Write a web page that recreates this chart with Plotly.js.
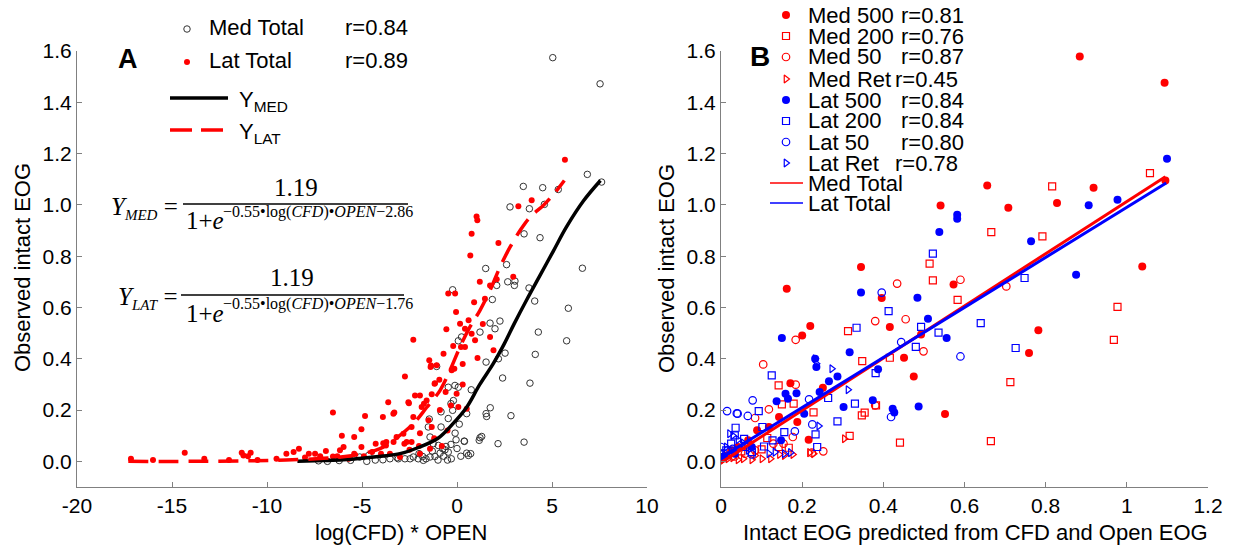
<!DOCTYPE html>
<html><head><meta charset="utf-8">
<script src="https://cdn.plot.ly/plotly-3.0.1.min.js"></script>
<style>body{margin:0;background:#fff}#c{width:1239px;height:545px}</style>
</head><body><div id="c"></div><script>
// ---------------- DATA ----------------
// Panel A
const medTotalX = [5.04,7.53,6.86,7.61,3.49,4.51,5.33,2.79,3.81,4.6,3.53,4.37,6.6,1.51,2.61,2.67,2.09,3.05,3.02,3.79,1.86,4.09,5.86,-0.23,1.74,2.0,2.26,1.21,4.28,0.24,0.07,5.77,2.53,2.18,1.53,4.12,-1.07,2.4,3.84,0.75,-0.11,-0.46,0.07,-0.19,-0.32,1.75,1.53,1.56,2.84,0.51,0.12,-0.46,-0.84,-1.46,-0.84,1.21,1.3,2.16,3.53,0.39,-0.05,-0.32,-0.58,-0.75,-0.98,-1.25,-1.42,0.51,0.72,0.6,-0.46,-0.63,-0.89,-1.16,-1.42,-1.63,-1.81,-2.04,-2.3,-2.47,-2.74,-3.09,-1.77,-0.23,-1.51,1.17,0.38,-6.82,-7.29,-4.75,-3.9,-3.53,-3.15,-4.65,-5.12,-4.3,-5.6,-6.2,-2.0,-1.3,-0.7,-0.3,0.0,-0.1,0.2,-1.0,-0.5];
const medTotalY = [1.574,1.472,1.119,1.089,1.072,1.067,1.06,0.992,0.985,1.002,0.887,0.872,0.753,0.752,0.767,0.7,0.686,0.703,0.686,0.676,0.631,0.625,0.597,0.669,0.539,0.517,0.547,0.504,0.504,0.485,0.47,0.47,0.422,0.4,0.387,0.417,0.37,0.325,0.305,0.279,0.296,0.289,0.289,0.237,0.225,0.209,0.186,0.175,0.178,0.186,0.145,0.167,0.193,0.165,0.134,0.092,0.097,0.069,0.075,0.078,0.084,0.066,0.058,0.049,0.062,0.069,0.095,0.032,0.03,0.023,0.036,0.045,0.032,0.019,0.017,0.01,0.019,0.01,0.017,0.01,0.01,0.01,0.004,0.199,0.134,0.082,0.079,0.0,0.002,0.0,0.006,0.01,0.014,0.023,0.017,0.005,0.004,0.003,0.03,0.04,0.02,0.01,0.05,0.11,0.02,0.005,0.005];
const latTotalX = [-17.16,-14.33,-13.3,-11.33,-10.86,-11.24,-11.0,-8.98,-8.6,-8.32,-7.47,-7.2,-6.53,-6.16,-5.97,-5.41,-5.03,-4.47,-4.28,-3.72,-3.34,-2.77,-6.53,-6.06,-5.41,-4.84,-5.03,-3.9,-3.62,-3.3,-2.74,-2.3,-2.53,-2.21,-1.74,-1.46,-1.37,-1.18,-0.71,-0.56,-0.46,-0.05,-0.14,0.42,0.61,0.7,1.08,1.36,1.74,1.92,2.96,5.68,3.93,3.23,1.03,1.07,0.77,2.18,2.09,1.47,-0.1,0.77,0.42,0.95,-1.39,-1.07,-0.28,-1.16,-0.93,-1.95,-2.56,-1.6,-1.33,-1.86,0.51,0.07,-3.35,-2.3,-1.33,-2.39,-2.82,-1.95,-3.18,-2.65,-2.39,-1.42,-3.88,-3.74,-3.0,-3.53,-1.95,-0.32,-0.02,0.21,1.74,0.16,-10.5,-9.5,-8.0,-7.8,-6.9,-6.3,-5.7,-4.9,-4.0,-2.5,-2.0,-1.2,-0.8,-0.5,-1.5,-0.9,-0.6,0.3,0.3,-0.2,0.9,1.2,-16.0,-12.0];
const latTotalY = [0.01,0.034,0.01,0.034,0.034,0.023,0.02,0.03,0.036,0.049,0.03,0.02,0.019,0.043,0.056,0.03,0.056,0.036,0.069,0.075,0.075,0.069,0.19,0.10,0.095,0.177,0.125,0.173,0.23,0.19,0.331,0.474,0.227,0.257,0.225,0.394,0.374,0.303,0.42,0.515,0.654,0.582,0.361,0.517,0.55,0.803,0.403,0.536,0.686,0.433,0.72,1.176,1.018,0.995,0.955,0.94,0.887,0.851,0.71,0.634,0.654,0.498,0.446,0.472,0.368,0.375,0.355,0.305,0.318,0.257,0.23,0.237,0.262,0.212,0.205,0.212,0.186,0.173,0.134,0.134,0.108,0.11,0.095,0.075,0.075,0.049,0.071,0.062,0.017,0.03,0.03,0.218,0.264,0.446,0.485,0.537,0.005,0.01,0.015,0.03,0.04,0.02,0.01,0.02,0.03,0.045,0.06,0.09,0.06,0.12,0.16,0.2,0.27,0.3,0.38,0.45,0.62,0.7,0.005,0.005];
const yMedX = [-8.4,-7,-6,-5,-4,-3,-2,-1,-0.2,0.5,1.2,1.9,2.5,3.0,3.67,4.37,5.07,5.77,6.65,7.55];
const yMedY = [0.0,0.003,0.006,0.012,0.02,0.03,0.055,0.09,0.148,0.21,0.30,0.38,0.46,0.535,0.63,0.725,0.82,0.915,1.015,1.095];
const yLatX = [-17.3,-14,-11,-9,-7,-6,-5,-4.05,-3.35,-2.3,-1.6,-0.89,-0.37,0.16,0.68,1.21,1.74,2.26,2.79,3.32,3.84,4.54,5.07,5.65];
const yLatY = [0.0,0.0,0.002,0.005,0.012,0.018,0.03,0.05,0.082,0.147,0.21,0.277,0.355,0.446,0.524,0.589,0.667,0.757,0.835,0.90,0.952,0.998,1.04,1.095];
const legendA = ["Med Total","Lat Total"];
const rA = ["r=0.84","r=0.89"];

// Panel B
const med500X = [0.884,1.093,0.541,0.656,0.708,0.828,0.918,1.095,0.345,1.038,0.162,0.573,0.396,0.22,0.2,0.416,0.782,0.493,0.451,0.475,0.759,0.552,0.171,0.251,0.188,0.118,0.143,0.216,0.089,0.067,0.042,0.025,0.013];
const med500Y = [1.579,1.476,0.998,1.076,0.989,1.007,1.067,1.095,0.758,0.76,0.673,0.69,0.637,0.528,0.491,0.524,0.511,0.495,0.404,0.331,0.422,0.185,0.305,0.287,0.153,0.134,0.173,0.084,0.121,0.082,0.056,0.043,0.023];
const med200X = [0.816,1.057,0.666,0.792,0.514,0.522,0.583,0.313,0.348,0.416,0.977,0.968,0.713,0.665,0.441,0.347,0.354,0.382,0.228,0.179,0.15,0.142,0.114,0.142,0.167,0.1,0.067,0.05,0.317];
const med200Y = [1.072,1.124,0.894,0.877,0.771,0.706,0.63,0.508,0.391,0.404,0.602,0.474,0.309,0.079,0.073,0.179,0.19,0.218,0.191,0.225,0.222,0.296,0.091,0.056,0.053,0.047,0.062,0.039,0.099];
const med50X = [0.434,0.59,0.703,0.38,0.455,0.499,0.104,0.184,0.184,0.118,0.084,0.177,0.252,0.224,0.154,0.129,0.084,0.059,0.034,0.38];
const med50Y = [0.693,0.708,0.682,0.547,0.554,0.429,0.378,0.474,0.299,0.203,0.169,0.095,0.039,0.034,0.069,0.069,0.043,0.03,0.019,0.218];
const medRetX = [0.304,0.218,0.228,0.122,0.101,0.076,0.055,0.042,0.029,0.017,0.004,0.084,0.144,0.156,0.177];
const medRetY = [0.088,0.034,0.03,0.01,0.01,0.006,0.01,0.006,0.014,0.01,0.004,0.023,0.027,0.023,0.027];
const lat500X = [1.099,0.906,0.977,0.582,0.582,0.538,0.764,0.345,0.51,0.556,0.15,0.317,0.484,0.875,0.387,0.235,0.232,0.287,0.266,0.243,0.186,0.159,0.165,0.137,0.302,0.205,0.374,0.423,0.427,0.487,0.148,0.076,0.034,0.008];
const lat500Y = [1.18,0.999,1.02,0.962,0.946,0.894,0.858,0.658,0.556,0.481,0.481,0.425,0.638,0.728,0.359,0.368,0.4,0.331,0.312,0.27,0.266,0.264,0.244,0.234,0.212,0.186,0.238,0.205,0.19,0.214,0.082,0.056,0.03,0.017];
const lat200X = [0.522,0.413,0.334,0.493,0.536,0.64,0.748,0.48,0.726,0.381,0.264,0.33,0.287,0.233,0.237,0.125,0.093,0.036,0.102,0.156,0.057,0.034,0.025,0.106,0.059,0.127,0.013,0.076];
const lat200Y = [0.81,0.586,0.521,0.524,0.502,0.539,0.715,0.446,0.442,0.344,0.247,0.225,0.156,0.105,0.056,0.335,0.196,0.131,0.134,0.114,0.088,0.101,0.069,0.058,0.056,0.082,0.043,0.036];
const lat50X = [0.396,0.444,0.59,0.419,0.078,0.015,0.041,0.066,0.182,0.217,0.225,0.0,0.007,0.017,0.029,0.076,0.004,0.039];
const lat50Y = [0.658,0.465,0.409,0.173,0.238,0.196,0.186,0.177,0.117,0.242,0.144,0.056,0.03,0.043,0.049,0.027,0.017,0.187];
const latRetX = [0.232,0.235,0.273,0.313,0.241,0.171,0.156,0.133,0.118,0.021,0.029,0.042,0.055,0.067,0.013,0.0];
const latRetY = [0.4,0.381,0.361,0.279,0.138,0.034,0.03,0.036,0.03,0.108,0.101,0.084,0.071,0.043,0.056,0.036];
const medTotX = [0, 1.095];
const medTotY = [-0.005, 1.11];
const latTotX = [0, 1.097];
const latTotY = [0.015, 1.085];
const legendB = ["Med 500","Med 200","Med 50","Med Ret","Lat 500","Lat 200","Lat 50","Lat Ret","Med Total","Lat Total"];
const rB = ["r=0.81","r=0.76","r=0.87","r=0.45","r=0.84","r=0.84","r=0.80","r=0.78","",""];

// ---------------- STYLE / LAYOUT ----------------
const W=1239,H=545;
const SANS='"Liberation Sans", Arial, sans-serif';
const SERIF='"Liberation Serif", "Times New Roman", serif';
const PX=x=>x/W, PY=y=>1-y/H;
const RED='#ff0000', BLUE='#0000ff';
const AX='#808080';

const stA = [
  {symbol:'circle-open', size:6.5, color:'#333333', line:{width:1}},
  {symbol:'circle', size:6, color:RED}
];
const stB = [
  {symbol:'circle', size:8, color:RED},
  {symbol:'square-open', size:7, color:RED, line:{width:1.2}},
  {symbol:'circle-open', size:7.5, color:RED, line:{width:1.2}},
  {symbol:'triangle-right-open', size:7, color:RED, line:{width:1.2}},
  {symbol:'circle', size:8, color:BLUE},
  {symbol:'square-open', size:7, color:BLUE, line:{width:1.2}},
  {symbol:'circle-open', size:7.5, color:BLUE, line:{width:1.2}},
  {symbol:'triangle-right-open', size:7, color:BLUE, line:{width:1.2}}
];
const traces=[];
[[medTotalX,medTotalY],[latTotalX,latTotalY]].forEach((d,i)=>traces.push({
  x:d[0],y:d[1],type:'scatter',mode:'markers',marker:stA[i],xaxis:'x',yaxis:'y',showlegend:false,hoverinfo:'skip'}));
traces.push({x:yMedX,y:yMedY,type:'scatter',mode:'lines',line:{color:'#000',width:3.5,shape:'spline'},xaxis:'x',yaxis:'y',showlegend:false});
traces.push({x:yLatX,y:yLatY,type:'scatter',mode:'lines',line:{color:RED,width:3.5,dash:'20px,10px',shape:'spline'},xaxis:'x',yaxis:'y',showlegend:false});
const seriesB=[[med500X,med500Y],[med200X,med200Y],[med50X,med50Y],[medRetX,medRetY],[lat500X,lat500Y],[lat200X,lat200Y],[lat50X,lat50Y],[latRetX,latRetY]];
seriesB.forEach((d,i)=>traces.push({x:d[0],y:d[1],type:'scatter',mode:'markers',marker:stB[i],xaxis:'x2',yaxis:'y2',showlegend:false,hoverinfo:'skip'}));
traces.push({x:medTotX,y:medTotY,type:'scatter',mode:'lines',line:{color:RED,width:3},xaxis:'x2',yaxis:'y2',showlegend:false});
traces.push({x:latTotX,y:latTotY,type:'scatter',mode:'lines',line:{color:BLUE,width:3},xaxis:'x2',yaxis:'y2',showlegend:false});

// legend keys (overlay pixel axis)
const keyA=[[187,29],[187,62]];
keyA.forEach((p,i)=>traces.push({x:[p[0]],y:[p[1]],type:'scatter',mode:'markers',marker:stA[i],xaxis:'x3',yaxis:'y3',showlegend:false,hoverinfo:'skip'}));
traces.push({x:[170,228],y:[98,98],type:'scatter',mode:'lines',line:{color:'#000',width:3.5},xaxis:'x3',yaxis:'y3',showlegend:false});
traces.push({x:[170,228],y:[130,130],type:'scatter',mode:'lines',line:{color:RED,width:3.5,dash:'22px,9px'},xaxis:'x3',yaxis:'y3',showlegend:false});
const rowB=[15,36,57,79,100,121,142,163,183,203];
stB.forEach((s,i)=>traces.push({x:[786],y:[rowB[i]],type:'scatter',mode:'markers',marker:s,xaxis:'x3',yaxis:'y3',showlegend:false,hoverinfo:'skip'}));
traces.push({x:[770,803],y:[rowB[8],rowB[8]],type:'scatter',mode:'lines',line:{color:RED,width:1.3},xaxis:'x3',yaxis:'y3',showlegend:false});
traces.push({x:[770,803],y:[rowB[9],rowB[9]],type:'scatter',mode:'lines',line:{color:BLUE,width:1.3},xaxis:'x3',yaxis:'y3',showlegend:false});

const ann=[];
function T(text,x,y,o){ann.push(Object.assign({text:text,x:PX(x),y:PY(y),xref:'paper',yref:'paper',showarrow:false,xanchor:'left',yanchor:'middle',font:{family:SANS,size:22,color:'#000'}},o||{}));}
T('<b>A</b>',128,59,{xanchor:'center',font:{family:SANS,size:27,color:'#000'}});
T('<b>B</b>',760,57,{xanchor:'center',font:{family:SANS,size:28,color:'#000'}});
legendA.forEach((t,i)=>{T(t,207,keyA[i][1]-2);T(rA[i],343,keyA[i][1]-2);});
T('Y<sub>MED</sub>',237,101);
T('Y<sub>LAT</sub>',237,133);
legendB.forEach((t,i)=>{T(t,806,rowB[i]); if(rB[i]) T(rB[i],(i===3||i===7)?893:899,rowB[i]);});
// equations
const EQ={family:SERIF,size:25,color:'#000'};
const EX={family:SERIF,size:16,color:'#000'};
const SUB='<span style="font-size:15px">';
T('<i>Y<sub>'+SUB+'MED</span></sub></i> =',180,208,{xanchor:'right',font:EQ});
T('1.19',296,187,{xanchor:'center',font:EQ});
T('1+<i>e</i>',184,221,{font:EQ});
T('−0.55•log(<i>CFD</i>)•<i>OPEN</i>−2.86',221,212,{font:EX});
T('<i>Y<sub>'+SUB+'LAT</span></sub></i> =',180,298,{xanchor:'right',font:EQ});
T('1.19',292,277,{xanchor:'center',font:EQ});
T('1+<i>e</i>',184,313,{font:EQ});
T('−0.55•log(<i>CFD</i>)•<i>OPEN</i>−1.76',221,304,{font:EX});
// axis titles
T('log(CFD) * OPEN',401,532,{xanchor:'center'});
T('Intact EOG predicted from CFD and Open EOG',975,532,{xanchor:'center'});
T('Observed intact EOG',22,268,{xanchor:'center',textangle:-90});
T('Observed intact EOG',666,268,{xanchor:'center',textangle:-90});

const shapes=[
 {type:'line',xref:'paper',yref:'paper',x0:PX(183),x1:PX(408),y0:PY(204),y1:PY(204),line:{color:'#000',width:1.3}},
 {type:'line',xref:'paper',yref:'paper',x0:PX(181),x1:PX(404),y0:PY(295),y1:PY(295),line:{color:'#000',width:1.3}}
];

const yticks=[0,0.2,0.4,0.6,0.8,1.0,1.2,1.4,1.6];
const ytext=yticks.map(v=>v.toFixed(1));
const baseAx={showline:true,linecolor:AX,linewidth:1,ticks:'inside',ticklen:5,tickcolor:AX,tickwidth:1,showgrid:false,zeroline:false,tickfont:{family:SANS,size:21,color:'#000'},fixedrange:true};
const yDom=[PY(487),PY(51)];
const layout={
  width:W,height:H,margin:{l:0,r:0,t:0,b:0},paper_bgcolor:'#fff',plot_bgcolor:'rgba(0,0,0,0)',
  showlegend:false,annotations:ann,shapes:shapes,
  xaxis:Object.assign({},baseAx,{domain:[PX(77),PX(647)],range:[-20,10],tickvals:[-20,-15,-10,-5,0,5,10],ticktext:['-20','-15','-10','-5','0','5','10'],anchor:'y'}),
  yaxis:Object.assign({},baseAx,{domain:yDom,range:[-0.1,1.6],tickvals:yticks,ticktext:ytext,anchor:'x'}),
  xaxis2:Object.assign({},baseAx,{domain:[PX(721),PX(1208)],range:[0,1.2],tickvals:[0,0.2,0.4,0.6,0.8,1,1.2],ticktext:['0','0.2','0.4','0.6','0.8','1','1.2'],anchor:'y2'}),
  yaxis2:Object.assign({},baseAx,{domain:yDom,range:[-0.1,1.6],tickvals:yticks,ticktext:ytext,anchor:'x2'}),
  xaxis3:{domain:[0,1],range:[0,W],visible:false,anchor:'y3',fixedrange:true},
  yaxis3:{domain:[0,1],range:[H,0],visible:false,anchor:'x3',fixedrange:true}
};
Plotly.newPlot('c',traces,layout,{staticPlot:true});
</script></body></html>
